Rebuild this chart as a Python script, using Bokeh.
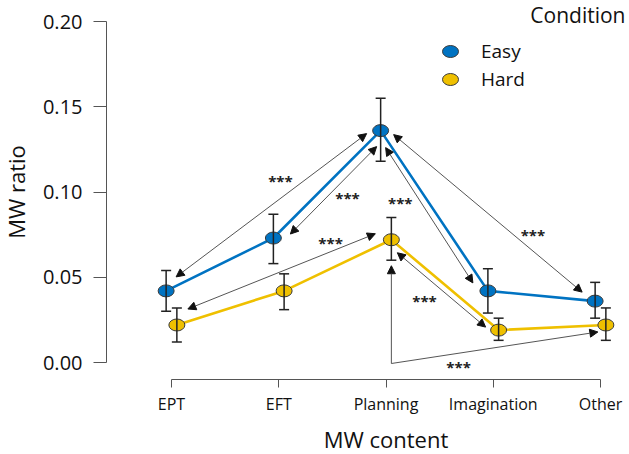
from bokeh.plotting import figure
from bokeh.models import (ColumnDataSource, Whisker, TeeHead, Arrow, NormalHead,
                          FixedTicker, PrintfTickFormatter, Legend, LegendItem, Label, Range1d)
from bokeh.core.properties import value
from bokeh.embed import file_html
from bokeh.resources import INLINE

# ---------------- data ----------------
categories = ["EPT", "EFT", "Planning", "Imagination", "Other"]
easy_mean = [0.042, 0.073, 0.136, 0.042, 0.036]
easy_low = [0.030, 0.058, 0.118, 0.029, 0.026]
easy_high = [0.054, 0.087, 0.155, 0.055, 0.047]
hard_mean = [0.022, 0.042, 0.072, 0.019, 0.022]
hard_low = [0.012, 0.031, 0.060, 0.013, 0.013]
hard_high = [0.032, 0.052, 0.085, 0.026, 0.032]
y_ticks = [0.00, 0.05, 0.10, 0.15, 0.20]

FONT = "Open Sans"
BLUE = "#0073C2"
YELLOW = "#EFC000"

# ---------------- geometry (canvas == frame) ----------------
W, H = 629, 454
PX_X = 107.25          # pixels per category step
PX_Y = 1705.0          # pixels per unit of ratio
X_FIRST_PX = 171       # pixel column of the first category
Y_ZERO_PX = 362        # pixel row of ratio 0
X0 = 1 - X_FIRST_PX / PX_X
X1 = X0 + W / PX_X
Y1 = Y_ZERO_PX / PX_Y
Y0 = Y1 - H / PX_Y
YAXIS_AT = X0 + 106 / PX_X
XAXIS_AT = Y1 - 379 / PX_Y
DODGE = 0.05

xpos = list(range(1, len(categories) + 1))
series = {
    "easy": dict(mean=easy_mean, low=easy_low, high=easy_high, color=BLUE, dx=-DODGE, label="Easy"),
    "hard": dict(mean=hard_mean, low=hard_low, high=hard_high, color=YELLOW, dx=DODGE, label="Hard"),
}

p = figure(width=W, height=H, output_backend="svg", toolbar_location=None,
           x_range=Range1d(X0, X1), y_range=Range1d(Y0, Y1),
           min_border=0, min_border_left=0, min_border_right=0,
           min_border_top=0, min_border_bottom=0)
p.outline_line_color = None
p.grid.visible = False
p.background_fill_color = "white"
p.border_fill_color = "white"

legend_items = []
for key, s in series.items():
    xs = [x + s["dx"] for x in xpos]
    src = ColumnDataSource(dict(x=xs, y=s["mean"], lo=s["low"], hi=s["high"]))
    wh = Whisker(source=src, base="x", upper="hi", lower="lo", dimension="height",
                 line_color="#222222", line_width=1.5, level="glyph",
                 upper_head=TeeHead(size=10, line_color="#222222", line_width=1.5),
                 lower_head=TeeHead(size=10, line_color="#222222", line_width=1.5))
    p.add_layout(wh)
    s["src"] = src
for key, s in series.items():
    p.line("x", "y", source=s["src"], line_color=s["color"], line_width=2.6)
for key, s in series.items():
    r = p.ellipse("x", "y", source=s["src"], width=16, height=12, width_units="screen",
                  height_units="screen", fill_color=s["color"], line_color="#3a3a3a", line_width=1)
    legend_items.append(LegendItem(label=s["label"], renderers=[r]))

legend = Legend(items=legend_items, location=(440, H - 93), padding=0, margin=0,
                glyph_width=20, glyph_height=28, label_height=28, spacing=0,
                label_standoff=21, border_line_color=None, background_fill_alpha=0,
                label_text_font=FONT, label_text_font_size="19px", label_text_color="#111111")
p.add_layout(legend)
p.add_layout(Label(x=625, y=H - 14, x_units="screen", y_units="screen",
                   text="Condition", text_font=FONT, text_font_size="21px", text_align="right",
                   text_baseline="middle", text_color="#111111"))

# ---------------- significance arrows ----------------
def pt(key, i, dxp, dyp):
    s = series[key]
    return (xpos[i] + s["dx"] + dxp / PX_X, s["mean"][i] - dyp / PX_Y)

arrow_specs = [
    (pt("easy", 0, 10, -14), pt("easy", 2, -14, 3), True, (9, -28)),
    (pt("easy", 1, 17, -4), pt("easy", 2, -4, 16), True, (14, 4)),
    (pt("hard", 0, 11, -16), pt("hard", 2, -16, -6), True, (49, -32)),
    (pt("easy", 2, 5, 17), pt("easy", 3, -15, -8), True, (-29, -16)),
    (pt("easy", 2, 13, 4), pt("easy", 4, -13, -9), True, (45, 18)),
    (pt("hard", 2, 6, 13), pt("hard", 3, -13, -3), True, (-17, 7)),
]
corner = (xpos[2] + series["hard"]["dx"], 0.0 - 1 / PX_Y)
elbow_top = pt("hard", 2, 0, 26)
elbow_end = pt("hard", 4, -8, 7)

def head():
    return NormalHead(size=8, fill_color="#111111", line_color="#111111", line_width=1)

lab_x, lab_y = [], []
for a, b, both, (ox, oy) in arrow_specs:
    p.add_layout(Arrow(x_start=a[0], y_start=a[1], x_end=b[0], y_end=b[1],
                       start=head() if both else None, end=head(),
                       line_color="#555555", line_width=1))
    mx, my = (a[0] + b[0]) / 2, (a[1] + b[1]) / 2
    lab_x.append(mx + ox / PX_X)
    lab_y.append(my - oy / PX_Y)

p.add_layout(Arrow(x_start=corner[0], y_start=corner[1], x_end=elbow_top[0], y_end=elbow_top[1],
                   start=None, end=head(), line_color="#555555", line_width=1))
p.add_layout(Arrow(x_start=corner[0], y_start=corner[1], x_end=elbow_end[0], y_end=elbow_end[1],
                   start=None, end=head(), line_color="#555555", line_width=1))
mx, my = (corner[0] + elbow_end[0]) / 2, (corner[1] + elbow_end[1]) / 2
lab_x.append(mx - 36 / PX_X)
lab_y.append(my - 15 / PX_Y)

p.text(x=lab_x, y=lab_y, text=["***"] * len(lab_x), text_font=value(FONT),
       text_font_size="15px", text_align="center", text_baseline="middle",
       text_color="#222222", y_offset=4, text_font_style="bold")

# ---------------- axes ----------------
p.yaxis.fixed_location = YAXIS_AT
p.xaxis.fixed_location = XAXIS_AT
p.yaxis.bounds = (0, 0.2)
p.yaxis.ticker = FixedTicker(ticks=y_ticks)
p.yaxis.formatter = PrintfTickFormatter(format="%.2f")
p.xaxis.bounds = (1, 5)
p.xaxis.ticker = FixedTicker(ticks=xpos)
p.xaxis.major_label_overrides = {x: c for x, c in zip(xpos, categories)}
for ax in (p.xaxis, p.yaxis):
    ax.axis_line_color = "#555555"
    ax.major_tick_line_color = "#555555"
    ax.minor_tick_line_color = None
    ax.major_tick_in = 0
    ax.major_label_text_font = FONT
    ax.major_label_text_color = "#111111"
    ax.axis_label_text_font = FONT
    ax.axis_label_text_font_style = "normal"
    ax.axis_label_text_font_size = "22px"
    ax.axis_label_text_color = "#111111"
p.yaxis.major_tick_out = 13
p.yaxis.major_label_standoff = 11
p.yaxis.major_label_text_font_size = "20px"
p.yaxis.axis_label = "MW ratio"
p.yaxis.axis_label_standoff = 9
p.xaxis.major_tick_out = 8
p.xaxis.major_label_standoff = 5
p.xaxis.major_label_text_font_size = "16px"
p.xaxis.axis_label = "MW content"
p.xaxis.axis_label_standoff = 6

open("out.html", "w").write(file_html(p, INLINE))
